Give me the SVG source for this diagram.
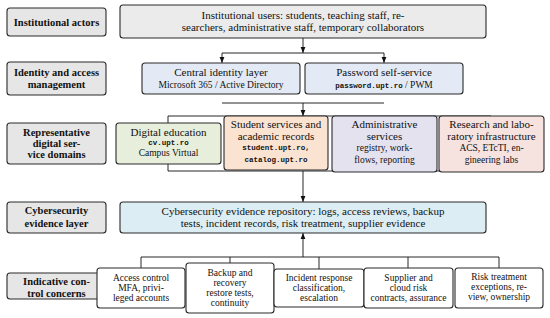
<svg xmlns="http://www.w3.org/2000/svg" width="550" height="318" viewBox="0 0 550 318">
<defs>
<marker id="ah" viewBox="0 0 6 6" refX="6" refY="3" markerWidth="6" markerHeight="6" orient="auto" markerUnits="userSpaceOnUse">
<path d="M0,0.6 L6,3 L0,5.4 Z" fill="#111"/>
</marker>
<style>
.lab{fill:#e6e6e6;stroke:#2a2a2a;stroke-width:1.1}
.box{stroke:#2a2a2a;stroke-width:1.1}
.cc{fill:#fff;stroke:#2a2a2a;stroke-width:1.1}
text{font-family:"Liberation Serif","Times New Roman",serif;fill:#111;text-anchor:middle}
.b{font-weight:bold;font-size:10.5px}
.m{font-size:11px}
.s{font-size:9.5px}
.t{font-family:"Liberation Mono","DejaVu Sans Mono",monospace;font-size:7.5px;font-weight:bold}
.c{fill:none;stroke:#111;stroke-width:0.9}
.a{fill:none;stroke:#111;stroke-width:0.9;marker-end:url(#ah)}
</style>
</defs>

<g id="connectors">
<path class="a" d="M303,38 V53"/>
<path class="c" d="M222,53 H384"/>
<path class="a" d="M222,53 V63"/>
<path class="a" d="M384,53 V63"/>
<path class="c" d="M222,103 H384"/>
<path class="a" d="M303,103 V116"/>
<path class="c" d="M168,123 V116 H491"/>
<path class="c" d="M168,164 V171 H491"/>
<path class="a" d="M303,171 V202"/>
<path class="a" d="M303,257 V233"/>
<path class="c" d="M141,268 V257 H499 V268"/>
<path class="c" d="M230,257 V263"/>
<path class="c" d="M319,257 V269"/>
<path class="c" d="M408,257 V268"/>
</g>

<g id="lab-actors"><rect class="lab" x="7" y="8" width="99" height="28" rx="3"/><text class="b" x="56.5" y="25.5">Institutional actors</text></g>
<g id="lab-identity"><rect class="lab" x="7" y="62" width="99" height="33" rx="3"/><text class="b" x="56.5" y="76">Identity and access</text><text class="b" x="56.5" y="88">management</text></g>
<g id="lab-domains"><rect class="lab" x="7" y="123" width="99" height="41" rx="3"/><text class="b" x="56.5" y="136">Representative</text><text class="b" x="56.5" y="147">digital ser-</text><text class="b" x="56.5" y="158">vice domains</text></g>
<g id="lab-evidence"><rect class="lab" x="7" y="202" width="99" height="31" rx="3"/><text class="b" x="56.5" y="214">Cybersecurity</text><text class="b" x="56.5" y="226.5">evidence layer</text></g>
<g id="lab-controls"><rect class="lab" x="7" y="273" width="99" height="26" rx="3"/><text class="b" x="56.5" y="285">Indicative con-</text><text class="b" x="56.5" y="296.5">trol concerns</text></g>

<g id="users"><rect class="box" fill="#ebebeb" x="120" y="5" width="366" height="33" rx="3"/><text class="m" x="303" y="19">Institutional users: students, teaching staff, re-</text><text class="m" x="303" y="31">searchers, administrative staff, temporary collaborators</text></g>

<g id="central-identity"><rect class="box" fill="#e3eaf5" x="142" y="63" width="158" height="31" rx="3"/><text class="m" x="221" y="76">Central identity layer</text><text class="s" x="221" y="88">Microsoft 365 / Active Directory</text></g>
<g id="password"><rect class="box" fill="#e3eaf5" x="305" y="63" width="158" height="31" rx="3"/><text class="m" x="384" y="76">Password self-service</text><text x="384" y="88"><tspan class="t">password.upt.ro</tspan><tspan class="s"> / PWM</tspan></text></g>

<g id="digital-education"><rect class="box" fill="#e7eedb" x="116" y="123" width="105" height="41" rx="3"/><text class="m" x="168.5" y="136">Digital education</text><text class="t" x="168.5" y="145">cv.upt.ro</text><text class="s" x="168.5" y="156">Campus Virtual</text></g>
<g id="student-services"><rect class="box" fill="#fbe3d2" x="224" y="116" width="104" height="54" rx="3"/><text class="m" x="276" y="128">Student services and</text><text class="m" x="276" y="140">academic records</text><text class="t" x="276" y="150">student.upt.ro,</text><text class="t" x="276" y="162">catalog.upt.ro</text></g>
<g id="administrative"><rect class="box" fill="#e5e2f0" x="332" y="116" width="105" height="56" rx="3"/><text class="m" x="384.5" y="128">Administrative</text><text class="m" x="384.5" y="140">services</text><text class="s" x="384.5" y="151">registry, work-</text><text class="s" x="384.5" y="163">flows, reporting</text></g>
<g id="research"><rect class="box" fill="#f6e2df" x="439" y="116" width="105" height="56" rx="3"/><text class="m" x="491.5" y="128">Research and labo-</text><text class="m" x="491.5" y="140">ratory infrastructure</text><text class="s" x="491.5" y="151">ACS, ETcTI, en-</text><text class="s" x="491.5" y="163">gineering labs</text></g>

<g id="evidence-repo"><rect class="box" fill="#dcedf3" x="120" y="202" width="366" height="31" rx="3"/><text class="m" x="303" y="215">Cybersecurity evidence repository: logs, access reviews, backup</text><text class="m" x="303" y="227">tests, incident records, risk treatment, supplier evidence</text></g>

<g id="access-control"><rect class="cc" x="97" y="268" width="88" height="40" rx="3"/><text class="s" x="141" y="281">Access control</text><text class="s" x="141" y="291">MFA, privi-</text><text class="s" x="141" y="301">leged accounts</text></g>
<g id="backup"><rect class="cc" x="186" y="263" width="88" height="50" rx="3"/><text class="s" x="230" y="276">Backup and</text><text class="s" x="230" y="286">recovery</text><text class="s" x="230" y="296">restore tests,</text><text class="s" x="230" y="306">continuity</text></g>
<g id="incident"><rect class="cc" x="274" y="269" width="90" height="38" rx="3"/><text class="s" x="319" y="281">Incident response</text><text class="s" x="319" y="291">classification,</text><text class="s" x="319" y="301">escalation</text></g>
<g id="supplier"><rect class="cc" x="364" y="268" width="89" height="40" rx="3"/><text class="s" x="408.5" y="281">Supplier and</text><text class="s" x="408.5" y="291">cloud risk</text><text class="s" x="408.5" y="301">contracts, assurance</text></g>
<g id="risk"><rect class="cc" x="455" y="268" width="88" height="40" rx="3"/><text class="s" x="499" y="280">Risk treatment</text><text class="s" x="499" y="290">exceptions, re-</text><text class="s" x="499" y="300">view, ownership</text></g>
</svg>
